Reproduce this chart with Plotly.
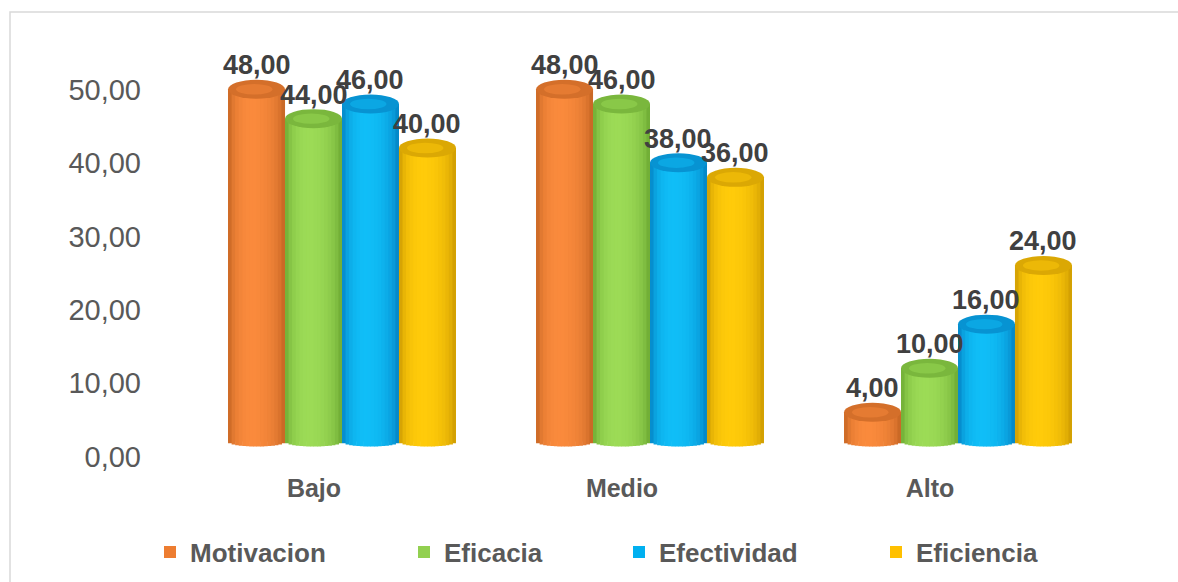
import math
import plotly.graph_objects as go

# ---- data -------------------------------------------------------------
categorias = ["Bajo", "Medio", "Alto"]
motivacion = [48, 48, 4]
eficacia = [44, 46, 10]
efectividad = [46, 38, 16]
eficiencia = [40, 36, 24]
nombres = ["Motivacion", "Eficacia", "Efectividad", "Eficiencia"]
y_ticks = [0, 10, 20, 30, 40, 50]
y_tick_labels = ["0,00", "10,00", "20,00", "30,00", "40,00", "50,00"]

series = [motivacion, eficacia, efectividad, eficiencia]

# ---- styling ------------------------------------------------------------
base_colors = ["#ED7D31", "#92D050", "#00B0F0", "#FFC000"]
light_colors = ["#FA8A3C", "#9CDB56", "#10BEF7", "#FFCB0A"]
dark_colors = ["#B4591C", "#5E9A28", "#0070B4", "#BE8C00"]

FONT = "Liberation Sans, Arial, sans-serif"
W, H = 1178, 582
M_L, M_R, M_T, M_B = 188, 66, 40, 125
PX_PER_UNIT = 7.34
Y_MIN = -2.1
plot_w = W - M_L - M_R
plot_h = H - M_T - M_B
Y_MAX = Y_MIN + plot_h / PX_PER_UNIT

BAR_GAP = 0.26
BAR_W = (1 - BAR_GAP) / 4
N_SLICES = 16
BOTTOM_H = 5 / PX_PER_UNIT   # depth of the curved cylinder bottom
CAP_H = 9.5 / PX_PER_UNIT    # half-height of the elliptical top cap


def hex_rgb(c):
    c = c.lstrip("#")
    return tuple(int(c[i:i + 2], 16) for i in (0, 2, 4))


def mix(c1, c2, k):
    a, b = hex_rgb(c1), hex_rgb(c2)
    r = [round(a[i] + (b[i] - a[i]) * k) for i in range(3)]
    return "rgb({},{},{})".format(*r)


def shade_k(t, t0=-0.2):
    # cylinder lighting: brightest a little left of centre, dark edges
    d = (t - t0) / (1 + t0) if t < t0 else (t - t0) / (1 - t0)
    return math.sqrt(max(0.0, 1 - d * d))


def fmt(v):
    return f"{v:.2f}".replace(".", ",")


fig = go.Figure()
shapes = []
annotations = []

for i, (vals, name) in enumerate(zip(series, nombres)):
    left = -(1 - BAR_GAP) / 2 + i * BAR_W
    legend_id = "legend" if i == 0 else f"legend{i + 1}"

    # flat body in the series colour (also provides the legend swatch)
    fig.add_trace(go.Bar(
        x=categorias, y=vals, width=BAR_W, offset=left,
        marker=dict(color=base_colors[i], line=dict(width=0)),
        name=name, legend=legend_id, hoverinfo="skip",
    ))

    # shaded vertical strips giving the rounded cylinder look
    sw = BAR_W / N_SLICES
    for j in range(N_SLICES):
        t = -1 + (2 * j + 1) / N_SLICES
        b = -BOTTOM_H * math.sqrt(max(0.0, 1 - t * t))
        width = sw * (1.0 if j == N_SLICES - 1 else 1.15)
        fig.add_trace(go.Bar(
            x=categorias, y=[v - b for v in vals], base=b,
            width=width, offset=left + j * sw,
            marker=dict(color=mix(dark_colors[i], light_colors[i], shade_k(t)),
                        line=dict(width=0)),
            showlegend=False, hoverinfo="skip",
        ))

    for k, v in enumerate(vals):
        x0 = k + left
        # top cap
        shapes.append(dict(type="circle", xref="x", yref="y",
                           x0=x0, x1=x0 + BAR_W, y0=v - CAP_H, y1=v + CAP_H,
                           fillcolor=mix(dark_colors[i], light_colors[i], 0.45),
                           line=dict(width=0), layer="above"))
        shapes.append(dict(type="circle", xref="x", yref="y",
                           x0=x0 + 0.14 * BAR_W, x1=x0 + 0.78 * BAR_W,
                           y0=v - 0.55 * CAP_H, y1=v + 0.55 * CAP_H,
                           fillcolor=mix(dark_colors[i], light_colors[i], 0.7),
                           line=dict(width=0), layer="above"))
        # value label
        annotations.append(dict(x=x0 + BAR_W / 2, y=v, xref="x", yref="y",
                                text=fmt(v), showarrow=False, yshift=24,
                                font=dict(family=FONT, size=27, color="#404040",
                                          weight="bold")))

# light frame around the chart area
shapes.append(dict(type="rect", xref="paper", yref="paper",
                   x0=(10 - M_L) / plot_w, x1=(W + 30 - M_L) / plot_w,
                   y0=(H - M_B - (H + 30)) / plot_h, y1=(H - M_B - 12) / plot_h,
                   line=dict(color="#D9D9D9", width=1.5),
                   fillcolor="rgba(0,0,0,0)", layer="below"))

legend_x = [150, 404, 619, 876]
legend_style = {}
for i, lx in enumerate(legend_x):
    key = "legend" if i == 0 else f"legend{i + 1}"
    legend_style[key] = dict(
        x=lx / W, xref="container", xanchor="left",
        y=1 - 552 / H, yref="container", yanchor="middle",
        orientation="h", bgcolor="rgba(0,0,0,0)", borderwidth=0,
        font=dict(family=FONT, size=26, color="#595959", weight="bold"),
    )

fig.update_layout(
    width=W, height=H,
    margin=dict(l=M_L, r=M_R, t=M_T, b=M_B, pad=0),
    paper_bgcolor="white", plot_bgcolor="white",
    barmode="overlay",
    shapes=shapes, annotations=annotations,
    xaxis=dict(
        type="category", range=[-0.5, 2.5],
        showgrid=False, zeroline=False, showline=False, ticks="",
        ticklabelshift=-28, ticklabelstandoff=14,
        tickfont=dict(family=FONT, size=25, color="#595959", weight="bold"),
    ),
    yaxis=dict(
        range=[Y_MIN, Y_MAX],
        tickvals=y_ticks, ticktext=y_tick_labels,
        showgrid=False, zeroline=False, showline=False, ticks="",
        ticklabelshift=15, ticklabelstandoff=46,
        tickfont=dict(family=FONT, size=29, color="#595959"),
    ),
    **legend_style,
)

fig.write_html("out.html")
